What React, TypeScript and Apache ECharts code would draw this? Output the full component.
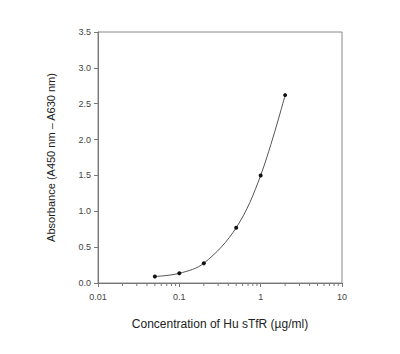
import React, { useEffect, useRef } from "react";
import * as echarts from "echarts";

const concentrations = [0.05, 0.1, 0.2, 0.5, 1, 2];
const absorbance = [0.09, 0.135, 0.275, 0.77, 1.5, 2.62];
const minorTicks = [
  0.02, 0.03, 0.04, 0.05, 0.06, 0.07, 0.08, 0.09,
  0.2, 0.3, 0.4, 0.5, 0.6, 0.7, 0.8, 0.9,
  2, 3, 4, 5, 6, 7, 8, 9,
];
const xTickLabels: Record<string, string> = { "0.01": "0.01", "0.1": "0.1", "1": "1", "10": "10" };

export default function App() {
  const ref = useRef<HTMLDivElement>(null);
  useEffect(() => {
    document.body.style.margin = "0";
    const chart = echarts.init(ref.current!, undefined, { renderer: "svg" });
    const font = "'Liberation Sans', Arial, sans-serif";
    chart.setOption({
      animation: false,
      backgroundColor: "#ffffff",
      grid: {
        left: 98,
        top: 32,
        width: 244,
        height: 251,
        show: true,
        borderColor: "#888",
        borderWidth: 1,
      },
      xAxis: {
        type: "log",
        logBase: 10,
        min: 0.01,
        max: 10,
        name: "Concentration of Hu sTfR (µg/ml)",
        nameLocation: "middle",
        nameGap: 35,
        nameTextStyle: { fontFamily: font, fontSize: 12, color: "#222" },
        axisLine: { lineStyle: { color: "#777", width: 1 } },
        axisTick: { show: true, inside: false, length: 4, lineStyle: { color: "#777" } },
        axisLabel: {
          fontFamily: font,
          fontSize: 9,
          color: "#444",
          margin: 9,
          formatter: (v: number) => {
            const k = String(Number(v.toPrecision(3)));
            return xTickLabels[k] ?? k;
          },
        },
        splitLine: { show: false },
      },
      yAxis: {
        type: "value",
        min: 0,
        max: 3.5,
        interval: 0.5,
        name: "Absorbance (A450 nm \u2013 A630 nm)",
        nameLocation: "middle",
        nameGap: 42,
        nameTextStyle: { fontFamily: font, fontSize: 11, color: "#222" },
        axisLine: { show: true, lineStyle: { color: "#777", width: 1 } },
        axisTick: { show: true, inside: false, length: 4, lineStyle: { color: "#777" } },
        axisLabel: {
          fontFamily: font,
          fontSize: 9,
          color: "#444",
          margin: 7,
          formatter: (v: number) => v.toFixed(1),
        },
        splitLine: { show: false },
      },
      series: [
        {
          type: "line",
          data: concentrations.map((c, i) => [c, absorbance[i]]),
          smooth: 0.35,
          symbol: "circle",
          symbolSize: 4,
          showSymbol: true,
          itemStyle: { color: "#111" },
          lineStyle: { color: "#555", width: 1 },
          z: 3,
        },
        {
          type: "custom",
          clip: false,
          silent: true,
          data: minorTicks.map((t) => [t, 0]),
          renderItem: (params: any, api: any) => {
            const p = api.coord([api.value(0), 0]);
            return {
              type: "line",
              shape: { x1: p[0], y1: p[1], x2: p[0], y2: p[1] + 3 },
              style: { stroke: "#777", lineWidth: 1 },
            };
          },
          z: 2,
        },
      ],
    });
    return () => chart.dispose();
  }, []);
  return <div ref={ref} style={{ width: 400, height: 354 }} />;
}
